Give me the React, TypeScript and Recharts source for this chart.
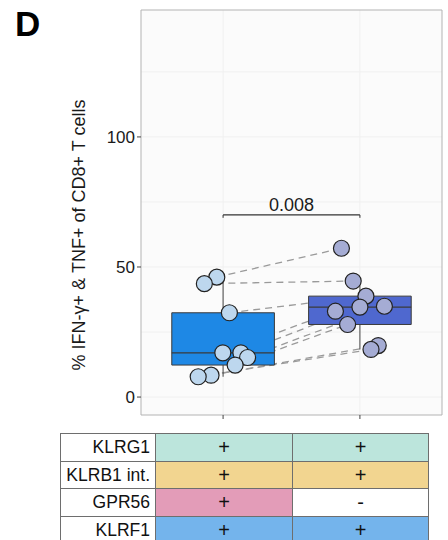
import {
  CartesianGrid,
  ComposedChart,
  ReferenceArea,
  ReferenceLine,
  Scatter,
  XAxis,
  YAxis,
} from 'recharts';

// paired samples, same donor at the same index in both groups
const valuesA = [46.1, 43.6, 32.4, 17.0, 17.0, 15.2, 12.3, 8.4, 7.8];
const valuesB = [57.2, 44.6, 38.8, 33.0, 34.6, 34.9, 27.9, 19.8, 18.3];
// horizontal jitter of each dot, in category units
const jitterA = [-0.046, -0.137, 0.046, -0.002, 0.13, 0.179, 0.088, -0.088, -0.182];
const jitterB = [-0.135, -0.049, 0.044, -0.179, 0.0, 0.179, -0.09, 0.134, 0.081];

const yTicks = [0, 50, 100];
const gridY = [0, 25, 50, 75, 100, 125];
const pValue = '0.008';
const bracketY = 70;

const markers = ['KLRG1', 'KLRB1 int.', 'GPR56', 'KLRF1'];
const statusA = ['+', '+', '+', '+'];
const statusB = ['+', '+', '-', '+'];

const markerColors = ['#bce5dc', '#f2d590', '#e39cb8', '#74b4ec'];
const FONT = '"Liberation Sans", Arial, sans-serif';
const X_DOMAIN: [number, number] = [0.4, 2.6];
const Y_DOMAIN: [number, number] = [-6.9, 148.8];
const HALF_BOX = 0.375;

function quantile(sorted: number[], p: number) {
  const h = (sorted.length - 1) * p;
  const lo = Math.floor(h);
  const hi = Math.min(lo + 1, sorted.length - 1);
  return sorted[lo] + (h - lo) * (sorted[hi] - sorted[lo]);
}

function boxStats(values: number[]) {
  const s = [...values].sort((a, b) => a - b);
  const q1 = quantile(s, 0.25);
  const med = quantile(s, 0.5);
  const q3 = quantile(s, 0.75);
  const iqr = q3 - q1;
  const lo = Math.min(...s.filter((v) => v >= q1 - 1.5 * iqr));
  const hi = Math.max(...s.filter((v) => v <= q3 + 1.5 * iqr));
  return { q1, med, q3, lo, hi };
}

const groups = [
  { pos: 1, values: valuesA, jitter: jitterA, box: '#1e88e5', dot: '#bdd7ee' },
  { pos: 2, values: valuesB, jitter: jitterB, box: '#4f68cf', dot: '#a5acd4' },
];

const dotShape = (fill: string) => (props: any) => (
  <circle cx={props.cx} cy={props.cy} r={8} fill={fill} stroke="#222" strokeWidth={1.2} />
);

function Boxplot() {
  return (
    <ComposedChart width={448} height={430} margin={{ top: 10, right: 6, left: 0, bottom: 0 }}>
      <CartesianGrid
        horizontalValues={gridY}
        verticalValues={[1, 2]}
        fill="#fbfbfb"
        stroke="#f0f0f0"
      />
      <XAxis
        type="number"
        dataKey="x"
        domain={X_DOMAIN}
        ticks={[1, 2]}
        allowDataOverflow
        axisLine={false}
        tickSize={4}
        tickLine={{ stroke: '#444' }}
        tickFormatter={() => ''}
        height={15}
      />
      <YAxis
        type="number"
        dataKey="y"
        domain={Y_DOMAIN}
        ticks={yTicks}
        allowDataOverflow
        axisLine={false}
        tickSize={4}
        tickMargin={2}
        tickLine={{ stroke: '#444' }}
        tick={{ fontSize: 17, fill: '#1a1a1a', fontFamily: FONT }}
        width={141}
        label={{
          content: () => (
            <text
              x={79}
              y={235}
              transform="rotate(-90 79 235)"
              textAnchor="middle"
              dominantBaseline="central"
              fontSize={18}
              fontFamily={FONT}
              fill="#1a1a1a"
            >
              % IFN-γ+ &amp; TNF+ of CD8+ T cells
            </text>
          ),
        }}
      />
      <ReferenceArea
        x1={X_DOMAIN[0]}
        x2={X_DOMAIN[1]}
        y1={Y_DOMAIN[0]}
        y2={Y_DOMAIN[1]}
        fill="none"
        stroke="#b3b3b3"
        strokeWidth={1}
        zIndex={0}
      />
      {/* paired dashed links sit under the boxes */}
      {valuesA.map((a, i) => (
        <ReferenceLine
          key={`pair-${i}`}
          segment={[
            { x: 1 + jitterA[i], y: a },
            { x: 2 + jitterB[i], y: valuesB[i] },
          ]}
          stroke="#9a9a9a"
          strokeWidth={1.3}
          strokeDasharray="7 5"
          zIndex={10}
        />
      ))}
      {groups.map((g) => {
        const b = boxStats(g.values);
        return [
          <ReferenceLine
            key={`wu-${g.pos}`}
            segment={[{ x: g.pos, y: b.q3 }, { x: g.pos, y: b.hi }]}
            stroke="#444"
            zIndex={20}
          />,
          <ReferenceLine
            key={`wl-${g.pos}`}
            segment={[{ x: g.pos, y: b.q1 }, { x: g.pos, y: b.lo }]}
            stroke="#444"
            zIndex={20}
          />,
          <ReferenceArea
            key={`box-${g.pos}`}
            x1={g.pos - HALF_BOX}
            x2={g.pos + HALF_BOX}
            y1={b.q1}
            y2={b.q3}
            fill={g.box}
            fillOpacity={1}
            stroke="#3a3a3a"
            strokeWidth={1}
            zIndex={30}
          />,
          <ReferenceLine
            key={`med-${g.pos}`}
            segment={[
              { x: g.pos - HALF_BOX, y: b.med },
              { x: g.pos + HALF_BOX, y: b.med },
            ]}
            stroke="#3a3a3a"
            strokeWidth={1.2}
            zIndex={40}
          />,
        ];
      })}
      <ReferenceLine
        segment={[{ x: 1, y: bracketY }, { x: 2, y: bracketY }]}
        stroke="#333"
        strokeWidth={1.2}
        label={{ value: pValue, position: 'top', offset: 4, fontSize: 18, fill: '#1a1a1a', fontFamily: FONT }}
      />
      <ReferenceLine segment={[{ x: 1, y: bracketY }, { x: 1, y: bracketY - 1.1 }]} stroke="#333" />
      <ReferenceLine segment={[{ x: 2, y: bracketY }, { x: 2, y: bracketY - 1.1 }]} stroke="#333" />
      {groups.map((g) => (
        <Scatter
          key={`pts-${g.pos}`}
          data={g.values.map((v, i) => ({ x: g.pos + g.jitter[i], y: v }))}
          shape={dotShape(g.dot)}
          isAnimationActive={false}
        />
      ))}
    </ComposedChart>
  );
}

function MarkerTable() {
  const cell = {
    borderRight: '1px solid #6e6e6e',
    borderBottom: '1px solid #6e6e6e',
    display: 'flex',
    alignItems: 'center',
    fontSize: 20,
    color: '#111',
  };
  return (
    <div
      style={{
        position: 'absolute',
        left: 60,
        top: 433,
        display: 'grid',
        gridTemplateColumns: '95px 137px 136px',
        gridTemplateRows: '28px 27px 28px 28px',
        borderLeft: '1px solid #6e6e6e',
        borderTop: '1px solid #6e6e6e',
        fontFamily: FONT,
      }}
    >
      {markers.map((m, i) => [
        <div key={`m-${i}`} style={{ ...cell, justifyContent: 'flex-end', paddingRight: 5, background: '#fff', fontSize: 17.5 }}>
          {m}
        </div>,
        <div key={`a-${i}`} style={{ ...cell, justifyContent: 'center', background: statusA[i] === '+' ? markerColors[i] : '#fff' }}>
          {statusA[i]}
        </div>,
        <div key={`b-${i}`} style={{ ...cell, justifyContent: 'center', background: statusB[i] === '+' ? markerColors[i] : '#fff' }}>
          {statusB[i]}
        </div>,
      ])}
    </div>
  );
}

export default function App() {
  return (
    <div style={{ position: 'absolute', left: 0, top: 0, width: 448, height: 540, background: '#fff', overflow: 'hidden' }}>
      <div
        style={{
          position: 'absolute',
          left: 15,
          top: 4,
          fontFamily: FONT,
          fontWeight: 'bold',
          fontSize: 35,
          lineHeight: '40px',
        }}
      >
        D
      </div>
      <div style={{ position: 'absolute', left: 0, top: 0 }}>
        <Boxplot />
      </div>
      <MarkerTable />
    </div>
  );
}
